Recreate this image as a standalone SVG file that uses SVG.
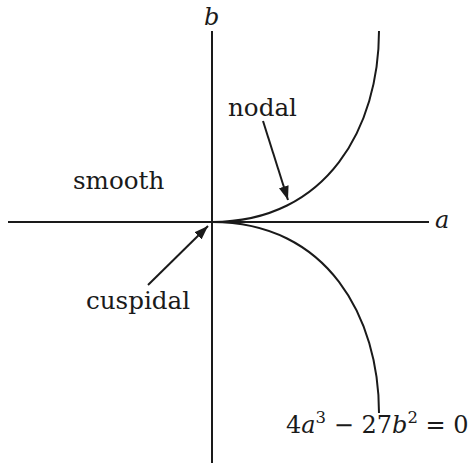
<svg xmlns="http://www.w3.org/2000/svg" width="471" height="465" viewBox="0 0 471 465">
<style>
.ax{stroke:#1a1a1a;stroke-width:2;fill:none}
.cv{stroke:#1a1a1a;stroke-width:2;fill:none}
.ar{stroke:#1a1a1a;stroke-width:2;fill:none;marker-end:url(#ah)}
.t{font-family:"DejaVu Serif","Liberation Serif",serif;font-size:24.6px;fill:#1a1a1a}
.e{font-family:"DejaVu Serif","Liberation Serif",serif;font-size:24px;fill:#1a1a1a}
.m{font-family:"DejaVu Serif","Liberation Serif",serif;font-size:24px;font-style:italic;fill:#1a1a1a}
</style>
<defs>
<marker id="ah" markerUnits="userSpaceOnUse" markerWidth="16" markerHeight="12" refX="14" refY="5" orient="auto">
<path d="M0,0 L14,5 L0,10 Z" fill="#1a1a1a"/>
</marker>
</defs>
<g id="axes">
<line class="ax" x1="8" y1="222" x2="429" y2="222"/>
<line class="ax" x1="212" y1="31" x2="212" y2="463"/>
<text class="m" x="435" y="228">a</text>
<text class="m" x="204" y="25">b</text>
</g>
<g id="curve">
<path class="cv" d="M212,222 C328,222 379,126 379,31"/>
<path class="cv" d="M212,222 C328,222 379,318 379,413"/>
</g>
<g id="smooth"><text class="t" x="73" y="189">smooth</text></g>
<g id="nodal"><text class="t" x="228" y="116">nodal</text></g>
<g id="cuspidal"><text class="t" x="86" y="309">cuspidal</text></g>
<g id="equation"><text class="e" x="286" y="433">4<tspan class="m">a</tspan><tspan font-size="16.5" dy="-10">3</tspan><tspan dy="10"> − 27</tspan><tspan class="m">b</tspan><tspan font-size="16.5" dy="-10">2</tspan><tspan dy="10"> = 0</tspan></text></g>
<g id="connectors">
<line class="ar" x1="263" y1="121" x2="288" y2="200"/>
<line class="ar" x1="148" y1="285" x2="208" y2="226"/>
</g>
</svg>
